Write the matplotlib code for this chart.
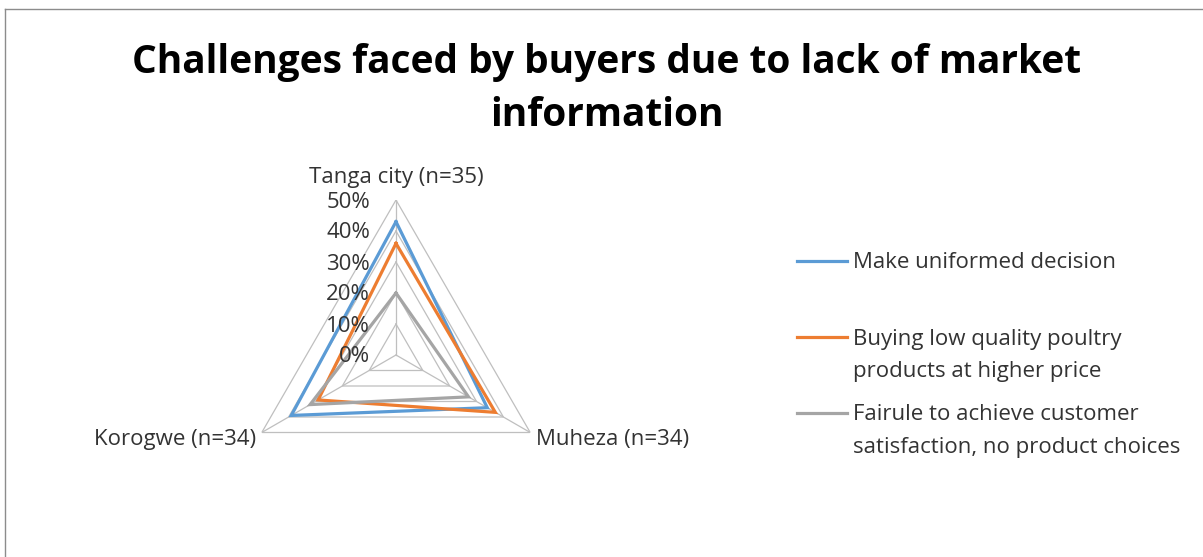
import numpy as np
import matplotlib
matplotlib.use("Agg")
import matplotlib.pyplot as plt
from matplotlib.lines import Line2D

# data (percent of respondents)
categories = ["Tanga city (n=35)", "Muheza (n=34)", "Korogwe (n=34)"]
series_names = ["Make uniformed decision",
                "Buying low quality poultry\nproducts at higher price",
                "Fairule to achieve customer\nsatisfaction, no product choices"]
uninformed = [43, 34, 39]
low_quality = [36, 37, 29]
no_satisfaction = [20, 27, 32]
tick_values = [0, 10, 20, 30, 40, 50]
title_lines = ["Challenges faced by buyers due to lack of market", "information"]

colors = ["#5B9BD5", "#ED7D31", "#A5A5A5"]
grid_color = "#BFBFBF"
txt_color = "#333333"
W, H = 1203, 557

plt.rcParams['font.family'] = ['Open Sans', 'DejaVu Sans']

fig = plt.figure(figsize=(W / 100, H / 100), dpi=100)

# frame lines (left and top only)
fig.add_artist(Line2D([5 / W, 5 / W], [0, 1 - 8.5 / H], color="#8C8C8C", lw=1.0))
fig.add_artist(Line2D([5 / W, 1], [1 - 8.5 / H, 1 - 8.5 / H], color="#8C8C8C", lw=1.0))

for i, line in enumerate(title_lines):
    fig.text(607 / W, 1 - (62 + 53 * i) / H, line, ha="center", va="center",
             fontsize=28, fontweight="bold")

# radar axes: centre (396, 355) px, radius 155 px
cx, cy, R = 396, 355, 155
ax = fig.add_axes([(cx - R) / W, (H - cy - R) / H, 2 * R / W, 2 * R / H], projection="polar")
ax.set_theta_zero_location("N")
ax.set_theta_direction(-1)
ax.set_ylim(0, 50)
ax.set_axis_off()

theta = np.deg2rad([0, 120, 240])
theta_c = np.append(theta, theta[0])

# polygon grid
for v in tick_values[1:]:
    ax.plot(theta_c, [v] * 4, color=grid_color, lw=0.9, zorder=1)
for t in theta:
    ax.plot([t, t], [0, 50], color=grid_color, lw=0.9, zorder=1)

for vals, c in zip([uninformed, low_quality, no_satisfaction], colors):
    ax.plot(theta_c, vals + vals[:1], color=c, lw=2.3, zorder=3, solid_joinstyle="miter")

for v in tick_values:
    ax.annotate(f"{v}%", xy=(0, v), xytext=(-26, -2), textcoords="offset pixels",
                ha="right", va="center", fontsize=16, color=txt_color)

ax.annotate(categories[0], xy=(theta[0], 50), xytext=(0, 22), textcoords="offset pixels",
            ha="center", va="center", fontsize=16, color=txt_color)
ax.annotate(categories[1], xy=(theta[1], 50), xytext=(6, -7), textcoords="offset pixels",
            ha="left", va="center", fontsize=16, color=txt_color)
ax.annotate(categories[2], xy=(theta[2], 50), xytext=(-6, -7), textcoords="offset pixels",
            ha="right", va="center", fontsize=16, color=txt_color)

# legend drawn by hand to mimic the spreadsheet layout
leg_y = [261, 337, 413]
for name, c, y in zip(series_names, colors, leg_y):
    fig.add_artist(Line2D([797 / W, 847 / W], [1 - y / H, 1 - y / H], color=c, lw=2.3))
    for i, line in enumerate(name.split("\n")):
        fig.text(853 / W, 1 - (y + 2 + 33 * i) / H, line, ha="left", va="center",
                 fontsize=16, color=txt_color)

fig.savefig("out.png", dpi=100)
